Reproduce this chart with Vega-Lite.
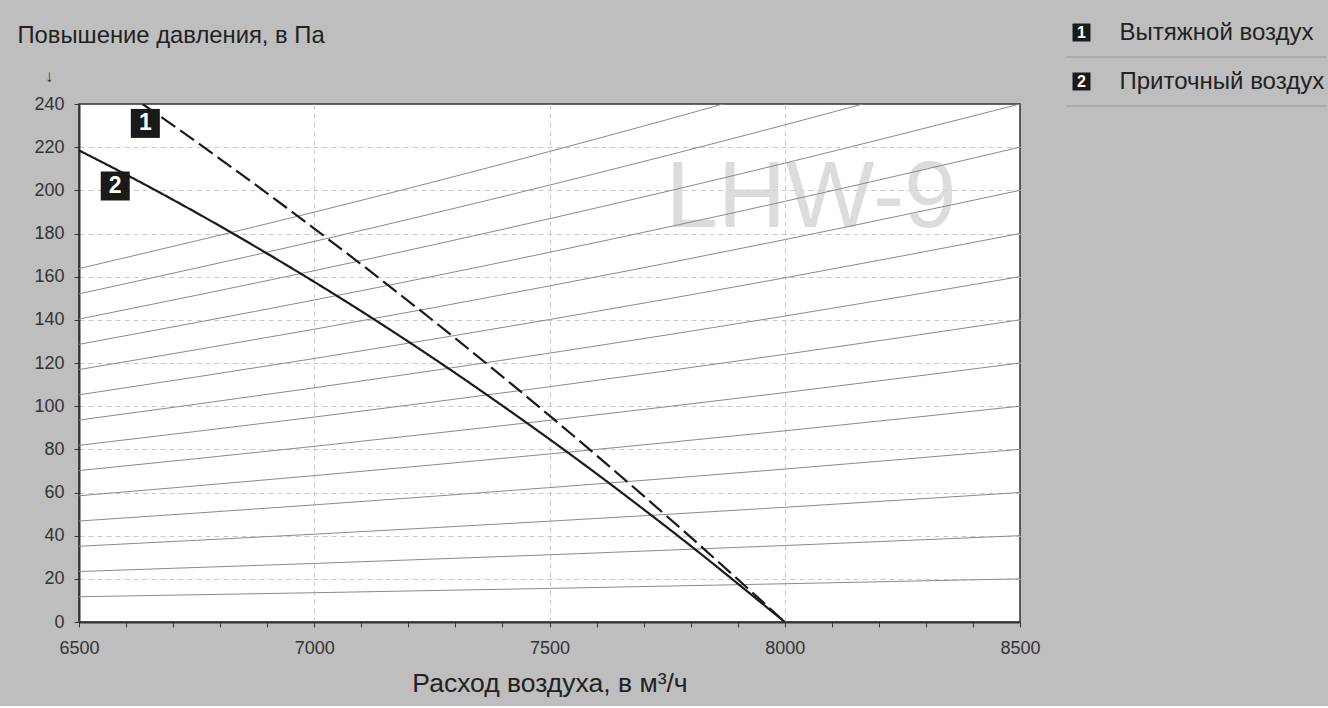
{
  "$schema": "https://vega.github.io/schema/vega-lite/v6.json",
  "background": "#bebebf",
  "padding": {"left": 16, "top": 20, "right": 0, "bottom": 8},
  "spacing": 24,
  "config": {
    "font": "Liberation Sans",
    "view": {"fill": "white", "stroke": "#333333", "strokeWidth": 1.5},
    "axis": {
      "domainColor": "#333333", "domainWidth": 2,
      "tickColor": "#333333", "tickSize": 5, "tickWidth": 1,
      "labelColor": "#333333", "labelFontSize": 18, "labelFont": "Liberation Sans", "labelFlush": false,
      "titleFont": "Liberation Sans", "titleColor": "#222222", "titleFontWeight": "normal", "titleFontSize": 23.8,
      "gridColor": "#c8c8c8", "gridDash": [5, 4], "gridWidth": 1
    }
  },
  "datasets": {
    "sys": [
      {"n": 1, "Q": 6500, "p": 11.70}, {"n": 1, "Q": 7000, "p": 13.56}, {"n": 1, "Q": 7500, "p": 15.57}, {"n": 1, "Q": 8000, "p": 17.72}, {"n": 1, "Q": 8500, "p": 20},
      {"n": 2, "Q": 6500, "p": 23.39}, {"n": 2, "Q": 7000, "p": 27.13}, {"n": 2, "Q": 7500, "p": 31.14}, {"n": 2, "Q": 8000, "p": 35.43}, {"n": 2, "Q": 8500, "p": 40},
      {"n": 3, "Q": 6500, "p": 35.09}, {"n": 3, "Q": 7000, "p": 40.69}, {"n": 3, "Q": 7500, "p": 46.71}, {"n": 3, "Q": 8000, "p": 53.15}, {"n": 3, "Q": 8500, "p": 60},
      {"n": 4, "Q": 6500, "p": 46.78}, {"n": 4, "Q": 7000, "p": 54.26}, {"n": 4, "Q": 7500, "p": 62.28}, {"n": 4, "Q": 8000, "p": 70.86}, {"n": 4, "Q": 8500, "p": 80},
      {"n": 5, "Q": 6500, "p": 58.48}, {"n": 5, "Q": 7000, "p": 67.82}, {"n": 5, "Q": 7500, "p": 77.86}, {"n": 5, "Q": 8000, "p": 88.58}, {"n": 5, "Q": 8500, "p": 100},
      {"n": 6, "Q": 6500, "p": 70.17}, {"n": 6, "Q": 7000, "p": 81.38}, {"n": 6, "Q": 7500, "p": 93.43}, {"n": 6, "Q": 8000, "p": 106.30}, {"n": 6, "Q": 8500, "p": 120},
      {"n": 7, "Q": 6500, "p": 81.87}, {"n": 7, "Q": 7000, "p": 94.95}, {"n": 7, "Q": 7500, "p": 109.00}, {"n": 7, "Q": 8000, "p": 124.01}, {"n": 7, "Q": 8500, "p": 140},
      {"n": 8, "Q": 6500, "p": 93.56}, {"n": 8, "Q": 7000, "p": 108.51}, {"n": 8, "Q": 7500, "p": 124.57}, {"n": 8, "Q": 8000, "p": 141.73}, {"n": 8, "Q": 8500, "p": 160},
      {"n": 9, "Q": 6500, "p": 105.26}, {"n": 9, "Q": 7000, "p": 122.08}, {"n": 9, "Q": 7500, "p": 140.14}, {"n": 9, "Q": 8000, "p": 159.45}, {"n": 9, "Q": 8500, "p": 180},
      {"n": 10, "Q": 6500, "p": 116.96}, {"n": 10, "Q": 7000, "p": 135.64}, {"n": 10, "Q": 7500, "p": 155.71}, {"n": 10, "Q": 8000, "p": 177.16}, {"n": 10, "Q": 8500, "p": 200},
      {"n": 11, "Q": 6500, "p": 128.65}, {"n": 11, "Q": 7000, "p": 149.20}, {"n": 11, "Q": 7500, "p": 171.28}, {"n": 11, "Q": 8000, "p": 194.88}, {"n": 11, "Q": 8500, "p": 220},
      {"n": 12, "Q": 6500, "p": 140.35}, {"n": 12, "Q": 7000, "p": 162.77}, {"n": 12, "Q": 7500, "p": 186.85}, {"n": 12, "Q": 8000, "p": 212.59}, {"n": 12, "Q": 8500, "p": 240},
      {"n": 13, "Q": 6500, "p": 152.04}, {"n": 13, "Q": 7000, "p": 176.33}, {"n": 13, "Q": 7500, "p": 202.42}, {"n": 13, "Q": 8000, "p": 230.31}, {"n": 13, "Q": 8500, "p": 260},
      {"n": 14, "Q": 6500, "p": 163.74}, {"n": 14, "Q": 7000, "p": 189.90}, {"n": 14, "Q": 7500, "p": 217.99}, {"n": 14, "Q": 8000, "p": 248.03}, {"n": 14, "Q": 8500, "p": 280}
    ],
    "curves": [
      {"id": "1", "Q": 6635, "p": 240}, {"id": "1", "Q": 6700, "p": 230.1}, {"id": "1", "Q": 6800, "p": 214.5}, {"id": "1", "Q": 6900, "p": 198.6},
      {"id": "1", "Q": 7000, "p": 182.3}, {"id": "1", "Q": 7100, "p": 165.7}, {"id": "1", "Q": 7200, "p": 148.7}, {"id": "1", "Q": 7300, "p": 131.4},
      {"id": "1", "Q": 7400, "p": 113.7}, {"id": "1", "Q": 7500, "p": 95.6}, {"id": "1", "Q": 7600, "p": 77.2}, {"id": "1", "Q": 7700, "p": 58.4},
      {"id": "1", "Q": 7800, "p": 39.3}, {"id": "1", "Q": 7900, "p": 19.8}, {"id": "1", "Q": 8000, "p": 0},
      {"id": "2", "Q": 6500, "p": 218.5}, {"id": "2", "Q": 6600, "p": 207.3}, {"id": "2", "Q": 6700, "p": 195.6}, {"id": "2", "Q": 6800, "p": 183.4},
      {"id": "2", "Q": 6900, "p": 170.7}, {"id": "2", "Q": 7000, "p": 157.6}, {"id": "2", "Q": 7100, "p": 144.0}, {"id": "2", "Q": 7200, "p": 129.9},
      {"id": "2", "Q": 7300, "p": 115.3}, {"id": "2", "Q": 7400, "p": 100.2}, {"id": "2", "Q": 7500, "p": 84.7}, {"id": "2", "Q": 7600, "p": 68.7},
      {"id": "2", "Q": 7700, "p": 52.2}, {"id": "2", "Q": 7800, "p": 35.3}, {"id": "2", "Q": 7900, "p": 17.8}, {"id": "2", "Q": 8000, "p": 0}
    ],
    "tags": [
      {"id": "1", "Q": 6641, "p": 231},
      {"id": "2", "Q": 6577, "p": 202}
    ],
    "mark": [
      {"t": "LHW-9", "Q": 8056, "p": 196}
    ],
    "legend": [
      {"id": "1", "name": "Вытяжной воздух"},
      {"id": "2", "name": "Приточный воздух"}
    ]
  },
  "hconcat": [
    {
      "width": 941,
      "height": 518,
      "title": {"text": "↓", "anchor": "start", "frame": "group", "fontSize": 17, "fontWeight": "normal", "color": "#333333", "dx": -34, "dy": 63, "offset": 0},
      "encoding": {
        "x": {
          "field": "Q", "type": "quantitative",
          "scale": {"domain": [6500, 8500], "nice": false, "zero": false},
          "axis": {
            "values": [6500, 6600, 6700, 6800, 6900, 7000, 7100, 7200, 7300, 7400, 7500, 7600, 7700, 7800, 7900, 8000, 8100, 8200, 8300, 8400, 8500],
            "format": "d",
            "labelExpr": "datum.value % 500 === 0 ? datum.label : ''",
            "labelOverlap": false,
            "labelPadding": 12,
            "gridOpacity": {"condition": {"test": "datum.value % 500 === 0 && datum.value > 6500 && datum.value < 8500", "value": 1}, "value": 0},
            "title": "Расход воздуха, в м³/ч",
            "titleFontSize": 26.5,
            "titlePadding": 13
          }
        },
        "y": {
          "field": "p", "type": "quantitative",
          "scale": {"domain": [0, 240], "nice": false},
          "axis": {
            "values": [0, 20, 40, 60, 80, 100, 120, 140, 160, 180, 200, 220, 240],
            "labelPadding": 10,
            "gridOpacity": {"condition": {"test": "datum.value > 0 && datum.value < 240", "value": 1}, "value": 0},
            "title": "Повышение давления, в Па",
            "titleAngle": 0, "titleAlign": "left", "titleBaseline": "alphabetic",
            "titleX": -62, "titleY": -62
          }
        }
      },
      "layer": [
        {
          "data": {"name": "mark"},
          "mark": {"type": "text", "fontSize": 94, "color": "#d6d6d6", "opacity": 0.85, "align": "center", "baseline": "middle"},
          "encoding": {"text": {"field": "t"}}
        },
        {
          "data": {"name": "sys"},
          "mark": {"type": "line", "color": "#8a8a8a", "strokeWidth": 1, "clip": true, "interpolate": "monotone"},
          "encoding": {"detail": {"field": "n"}}
        },
        {
          "data": {"name": "curves"},
          "mark": {"type": "line", "color": "#1a1a1a", "strokeWidth": 2.2, "clip": true, "interpolate": "monotone"},
          "encoding": {
            "detail": {"field": "id"},
            "strokeDash": {"field": "id", "type": "nominal", "scale": {"domain": ["1", "2"], "range": [[17, 6], [1, 0]]}, "legend": null}
          }
        },
        {
          "data": {"name": "tags"},
          "mark": {"type": "square", "size": 841, "filled": true, "color": "#1a1a1a", "opacity": 1}
        },
        {
          "data": {"name": "tags"},
          "mark": {"type": "text", "fontSize": 23, "fontWeight": "bold", "color": "white", "baseline": "middle", "align": "center"},
          "encoding": {"text": {"field": "id"}}
        }
      ]
    },
    {
      "width": 261,
      "height": 2,
      "view": {"stroke": null, "fill": null},
      "data": {"name": "legend"},
      "encoding": {
        "y": {"field": "id", "type": "nominal", "axis": null, "scale": {"range": [-96, 2], "paddingInner": 0, "paddingOuter": 0}}
      },
      "layer": [
        {
          "mark": {"type": "rule", "color": "#9a9a9a", "strokeWidth": 1.2},
          "encoding": {"y": {"field": "id", "type": "nominal", "bandPosition": 1, "axis": null}}
        },
        {
          "mark": {"type": "square", "size": 324, "filled": true, "color": "#1a1a1a", "opacity": 1, "xOffset": -115}
        },
        {
          "mark": {"type": "text", "fontSize": 16, "fontWeight": "bold", "color": "white", "baseline": "middle", "align": "center", "xOffset": -115},
          "encoding": {"text": {"field": "id"}}
        },
        {
          "mark": {"type": "text", "fontSize": 24, "color": "#222222", "baseline": "middle", "align": "left", "xOffset": -77},
          "encoding": {"text": {"field": "name"}}
        }
      ]
    }
  ]
}
